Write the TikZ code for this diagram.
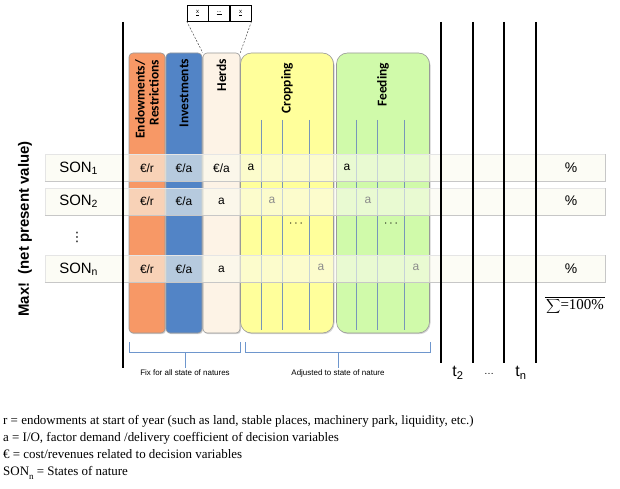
\documentclass[tikz,border=0pt]{standalone}
\usepackage{fontspec}
\setmainfont{Liberation Serif}
\setsansfont{Liberation Sans}
\newfontfamily\headfont{Carlito}
\newfontfamily\symbfont{DejaVu Sans}
\usetikzlibrary{positioning, shadows}

\definecolor{endowcol}{RGB}{247,152,102}
\definecolor{investcol}{RGB}{82,132,198}
\definecolor{herdcol}{RGB}{253,243,230}
\definecolor{cropcol}{RGB}{255,255,155}
\definecolor{feedcol}{RGB}{208,250,170}
\definecolor{gridcol}{RGB}{120,150,185}
\definecolor{bracecol}{RGB}{110,150,205}
\definecolor{barcol}{RGB}{250,250,238}

\tikzstyle{column} = [rectangle, rounded corners=4bp, minimum width=36bp, minimum height=280bp, inner sep=0pt, draw=black!40, line width=0.6bp, drop shadow={shadow xshift=1bp, shadow yshift=-1.2bp, opacity=0.35}]
\tikzstyle{bigcolumn} = [column, rounded corners=11bp, minimum width=93bp]
\tikzstyle{head} = [rotate=90, anchor=east, align=right, inner sep=0pt, font=\headfont\bfseries\fontsize{13.5}{14}\selectfont]
\tikzstyle{sonbar} = [rectangle, minimum width=560bp, minimum height=27bp, inner sep=0pt, draw=black!10, fill=barcol, fill opacity=0.6]
\tikzstyle{barshade} = [black!22, line width=1.2bp]
\tikzstyle{sonlabel} = [anchor=west, font=\sffamily\fontsize{15}{15}\selectfont]
\tikzstyle{cell} = [font=\sffamily\fontsize{12}{12}\selectfont]
\tikzstyle{graycell} = [cell, text=black!45]
\tikzstyle{pct} = [font=\sffamily\fontsize{14}{14}\selectfont]
\tikzstyle{gridline} = [gridcol, line width=0.8bp]
\tikzstyle{bigline} = [black, line width=2bp]
\tikzstyle{xcell} = [rectangle, draw=black, line width=0.6bp, minimum width=21bp, minimum height=16bp, inner sep=0pt, font=\sffamily\fontsize{6}{6}\selectfont]
\tikzstyle{zoomline} = [black!70, line width=0.5bp, dash pattern=on 2bp off 1.5bp]
\tikzstyle{brace} = [bracecol, line width=0.7bp]
\tikzstyle{bracelabel} = [inner sep=1.5bp, font=\sffamily\fontsize{8}{8}\selectfont]
\tikzstyle{tlabel} = [font=\sffamily\fontsize{16}{16}\selectfont]
\tikzstyle{legend} = [anchor=base west, inner sep=0pt, font=\fontsize{13}{13}\selectfont]

\begin{document}
\begin{tikzpicture}[x=1bp, y=-1bp]
\useasboundingbox (0,0) rectangle (620,489);

% decision variable blocks
\node (endow) [column, fill=endowcol] at (147,193) {};
\node (invest) [column, fill=investcol] at (184,193) {};
\node (herds) [column, fill=herdcol, minimum width=37bp] at (221.5,193) {};
\node (crop) [bigcolumn, fill=cropcol] at (287,193) {};
\node (feed) [bigcolumn, fill=feedcol] at (383,193) {};

\node (endowhead) [head] at ([yshift=-7bp]endow.north) {Endowments/\\Restrictions};
\node (investhead) [head] at ([yshift=-6bp]invest.north) {Investments};
\node (herdshead) [head] at ([yshift=-6bp]herds.north) {Herds};
\node (crophead) [head] at ([yshift=-10bp]crop.north) {Cropping};
\node (feedhead) [head] at ([yshift=-10bp]feed.north) {Feeding};

\foreach \x in {261,282,309,356,377,404}
  \draw [gridline] (\x,120) -- (\x,330);

% states of nature
\node (son1) [sonbar] at (325,168) {};
\node (son2) [sonbar] at (325,201.5) {};
\node (sonn) [sonbar] at (325,269) {};
\foreach \b in {son1,son2,sonn}
  \draw [barshade] (\b.south west) -- (\b.south east) -- (\b.north east);

\node (son1lbl) [sonlabel] at ([xshift=11bp]son1.west) {SON\textsubscript{1}};
\node (son2lbl) [sonlabel] at ([xshift=11bp]son2.west) {SON\textsubscript{2}};
\node (sondots) [font=\symbfont\fontsize{13}{13}\selectfont] at (77,237) {⋮};
\node (sonnlbl) [sonlabel] at ([xshift=11bp]sonn.west) {SON\textsubscript{n}};

% coefficients
\node (e1) [cell] at (endow |- son1) {€/r};
\node (i1) [cell] at (invest |- son1) {€/a};
\node (h1) [cell] at (herds |- son1) {€/a};
\node (c1) [cell] at (251,167) {a};
\node (f1) [cell] at (347,167) {a};
\node (e2) [cell] at (endow |- son2) {€/r};
\node (i2) [cell] at (invest |- son2) {€/a};
\node (h2) [cell] at (herds |- son2) {a};
\node (c2) [graycell] at (272,200) {a};
\node (f2) [graycell] at (368,200) {a};
\node (cdots) [cell] at (296,224) {$\cdots$};
\node (fdots) [cell] at (391,224) {$\cdots$};
\node (en) [cell] at (endow |- sonn) {€/r};
\node (in) [cell] at (invest |- sonn) {€/a};
\node (hn) [cell] at (herds |- sonn) {a};
\node (cn) [graycell] at (321,267) {a};
\node (fn) [graycell] at (416,267) {a};

\node (p1) [pct] at (571,168) {\%};
\node (p2) [pct] at (571,201) {\%};
\node (pn) [pct] at (571,269) {\%};
\node (sumlbl) [inner sep=1bp, font=\fontsize{15}{15}\selectfont] at (575,306) {$\displaystyle\sum$=100\%};
\draw [line width=0.6bp] (sumlbl.north west) -- (sumlbl.north east);

% time periods
\draw [bigline] (123,22) -- (123,368);
\foreach \x in {441,473,504,536}
  \draw [bigline] (\x,22) -- (\x,363);
\node (t2) [tlabel] at (458,373) {t\textsubscript{2}};
\node (tdots) [tlabel] at (489,374) {\fontsize{10}{10}\selectfont\dots};
\node (tn) [tlabel] at (521,373) {t\textsubscript{n}};

% herd detail
\node (xa) [xcell] at (197.5,13) {\underline{x}};
\node (xdots) [xcell, right=0pt of xa] {\underline{...}};
\node (xb) [xcell, right=0pt of xdots] {\underline{x}};
\draw [zoomline] (xa.south west) -- (herds.north west);
\draw [zoomline] (xb.south east) -- (herds.north east);

% groups
\node (fixlbl) [bracelabel] at (185,373) {Fix for all state of natures};
\node (adjlbl) [bracelabel] at (338,373) {Adjusted to state of nature};
\draw [brace] (129,342) -- (129,352) -| (240,342);
\draw [brace] (245,342) -- (245,352) -| (430,342);
\draw [brace] (185,352) -- (fixlbl.north);
\draw [brace] (338,352) -- (adjlbl.north);

\node (maxlbl) [rotate=90, font=\sffamily\bfseries\fontsize{15}{15}\selectfont] at (25,229) {Max!~~(net present value)};

% legend
\node (leg1) [legend] at (3,424) {r = endowments at start of year (such as land, stable places, machinery park, liquidity, etc.)};
\node (leg2) [legend] at (3,441) {a = I/O, factor demand /delivery coefficient of decision variables};
\node (leg3) [legend] at (3,458) {€ = cost/revenues related to decision variables};
\node (leg4) [legend] at (3,475) {SON\raisebox{-4bp}{\fontsize{9}{9}\selectfont n} = States of nature};

\end{tikzpicture}
\end{document}
